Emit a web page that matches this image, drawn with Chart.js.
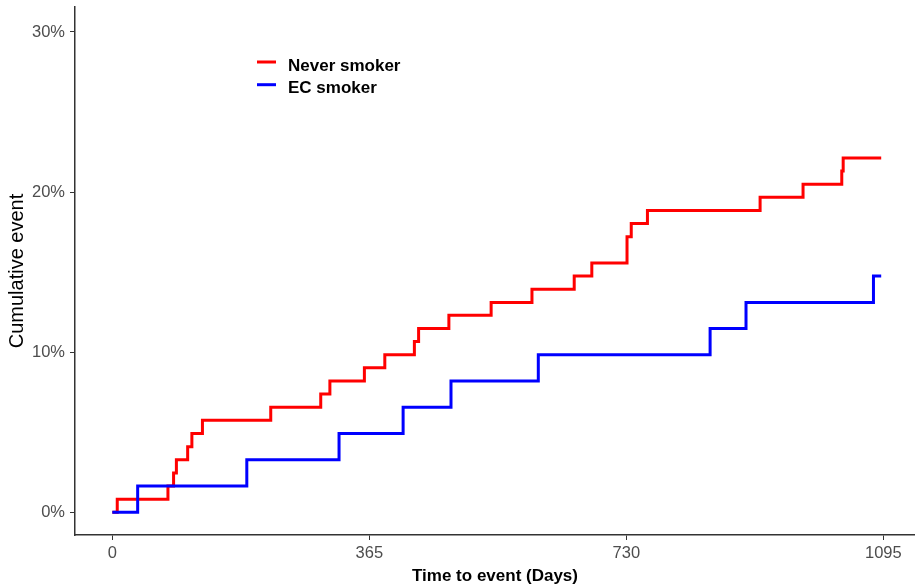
<!DOCTYPE html>
<html>
<head>
<meta charset="utf-8">
<title>Cumulative event</title>
<script src="https://cdn.jsdelivr.net/npm/chart.js@4"></script>
<style>
  html, body { margin: 0; padding: 0; background: #fff; }
  #wrap { width: 915px; height: 587px; position: relative; }
</style>
</head>
<body>
<div id="wrap"><canvas id="kmChart" width="915" height="587"></canvas></div>
<script>
// datos (dias, evento acumulado)
const neverDays = [0, 7, 79, 87, 91, 107, 113, 128, 225, 296, 309, 358, 387, 429, 435, 478, 538, 596, 656, 681, 731, 737, 760, 920, 981, 1036, 1038, 1092];
const neverCum  = [0, 0.0082, 0.0164, 0.0246, 0.0328, 0.0410, 0.0492, 0.0574, 0.0656, 0.0738, 0.0820, 0.0902, 0.0984, 0.1066, 0.1148, 0.1230, 0.1311, 0.1393, 0.1475, 0.1557, 0.1721, 0.1803, 0.1885, 0.1967, 0.2049, 0.2131, 0.2213, 0.2213];

const ecDays = [0, 36, 191, 322, 413, 481, 605, 849, 900, 1081, 1092];
const ecCum  = [0, 0.0164, 0.0328, 0.0492, 0.0656, 0.0820, 0.0984, 0.1148, 0.1311, 0.1475, 0.1475];

const xTicks = [0, 365, 730, 1095];
const yTicks = [0, 0.1, 0.2, 0.3];
const seriesLabels = ['Never smoker', 'EC smoker'];
const seriesColors = ['#FF0000', '#0000FF'];

const FONT = '"Liberation Sans", Arial, Helvetica, sans-serif';

function toPoints(days, cum) {
  return days.map((d, i) => ({ x: d, y: cum[i] }));
}

// leyenda dentro del area del grafico
const insideLegend = {
  id: 'insideLegend',
  afterDraw(chart) {
    const ctx = chart.ctx;
    ctx.save();
    chart.data.datasets.forEach((ds, i) => {
      const y = 62 + i * 22.7;
      ctx.strokeStyle = ds.borderColor;
      ctx.lineWidth = 3;
      ctx.beginPath();
      ctx.moveTo(257, y);
      ctx.lineTo(276, y);
      ctx.stroke();
      ctx.fillStyle = '#000';
      ctx.font = 'bold 17px ' + FONT;
      ctx.textBaseline = 'alphabetic';
      ctx.fillText(ds.label, 288, y + 8.5);
    });
    ctx.restore();
  }
};

const ctx = document.getElementById('kmChart').getContext('2d');
new Chart(ctx, {
  type: 'line',
  data: {
    datasets: [
      {
        label: seriesLabels[0],
        data: toPoints(neverDays, neverCum),
        borderColor: seriesColors[0],
        borderWidth: 3,
        stepped: true,
        pointRadius: 0,
        fill: false,
        order: 1
      },
      {
        label: seriesLabels[1],
        data: toPoints(ecDays, ecCum),
        borderColor: seriesColors[1],
        borderWidth: 3,
        stepped: true,
        pointRadius: 0,
        fill: false,
        order: 0
      }
    ]
  },
  options: {
    responsive: false,
    animation: false,
    devicePixelRatio: 1,
    layout: { padding: { top: 7, right: 0, bottom: 0, left: 0 } },
    plugins: {
      legend: { display: false },
      tooltip: { enabled: false }
    },
    scales: {
      x: {
        type: 'linear',
        min: -53,
        max: 1140,
        afterBuildTicks: (s) => { s.ticks = xTicks.map(v => ({ value: v })); },
        afterFit: (s) => { s.height = 52; s.paddingLeft = 0; s.paddingRight = 0; },
        grid: { drawOnChartArea: false, drawTicks: true, tickLength: 5, tickColor: '#333', tickWidth: 1 },
        border: { display: true, color: '#333', width: 1.5 },
        ticks: {
          color: '#4D4D4D',
          font: { family: FONT, size: 16.5 },
          padding: 4,
          maxRotation: 0,
          autoSkip: false,
          callback: (v) => String(v)
        },
        title: {
          display: true,
          text: 'Time to event (Days)',
          color: '#000',
          font: { family: FONT, size: 17, weight: 'bold' },
          padding: { top: 3, bottom: 0 }
        }
      },
      y: {
        type: 'linear',
        min: -0.0142,
        max: 0.3156,
        afterBuildTicks: (s) => { s.ticks = yTicks.map(v => ({ value: v })); },
        afterFit: (s) => { s.width = 75; s.paddingTop = 0; s.paddingBottom = 0; },
        grid: { drawOnChartArea: false, drawTicks: true, tickLength: 5, tickColor: '#333', tickWidth: 1 },
        border: { display: true, color: '#333', width: 1.5 },
        ticks: {
          color: '#4D4D4D',
          font: { family: FONT, size: 16.5 },
          padding: 5,
          autoSkip: false,
          callback: (v) => Math.round(v * 100) + '%'
        },
        title: {
          display: true,
          text: 'Cumulative event',
          color: '#000',
          font: { family: FONT, size: 20 },
          padding: { top: 5, bottom: 0 }
        }
      }
    }
  },
  plugins: [insideLegend]
});
</script>
</body>
</html>
